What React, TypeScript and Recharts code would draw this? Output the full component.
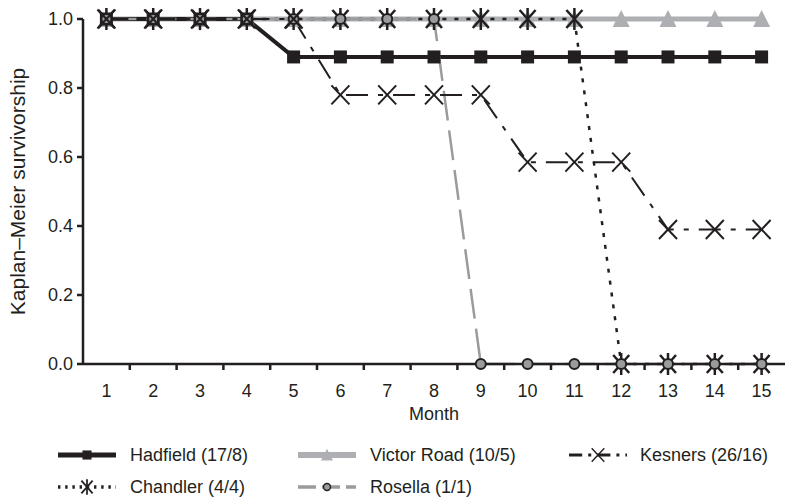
import { LineChart, Line, XAxis, YAxis } from 'recharts';

const INK = '#231f20';
const LIGHT = '#adafb2';
const MID = '#9a9b9d';
const FONT = '"Liberation Sans", Arial, sans-serif';

const months = [1, 2, 3, 4, 5, 6, 7, 8, 9, 10, 11, 12, 13, 14, 15];
const yTicks = [0, 0.2, 0.4, 0.6, 0.8, 1.0];

const hadfield = [1, 1, 1, 1, 0.89, 0.89, 0.89, 0.89, 0.89, 0.89, 0.89, 0.89, 0.89, 0.89, 0.89];
const victorRoad = [1, 1, 1, 1, 1, 1, 1, 1, 1, 1, 1, 1, 1, 1, 1];
const kesners = [1, 1, 1, 1, 1, 0.78, 0.78, 0.78, 0.78, 0.585, 0.585, 0.585, 0.39, 0.39, 0.39];
const chandler = [1, 1, 1, 1, 1, 1, 1, 1, 1, 1, 1, 0, 0, 0, 0];
const rosella = [1, 1, 1, 1, 1, 1, 1, 1, 0, 0, 0, 0, 0, 0, 0];

const rows = months.map((m, i) => ({
  month: m,
  hadfield: hadfield[i],
  victorRoad: victorRoad[i],
  kesners: kesners[i],
  chandler: chandler[i],
  rosella: rosella[i],
}));

// ticks at category centres (labels) and boundaries (tick marks)
const xTicks = months.flatMap(m => (m < months.length ? [m, m + 0.5] : [m]));

type MarkerProps = { cx: number; cy: number };

const SquareMark = ({ cx, cy }: MarkerProps) => (
  <rect x={cx - 6.5} y={cy - 6.5} width={13} height={13} fill={INK} />
);
const TriangleMark = ({ cx, cy }: MarkerProps) => (
  <polygon points={`${cx},${cy - 9} ${cx - 8.5},${cy + 8} ${cx + 8.5},${cy + 8}`} fill={LIGHT} />
);
const CrossMark = ({ cx, cy }: MarkerProps) => (
  <g stroke={INK} strokeWidth={2}>
    <line x1={cx - 9} y1={cy - 9.5} x2={cx + 9} y2={cy + 9.5} />
    <line x1={cx - 9} y1={cy + 9.5} x2={cx + 9} y2={cy - 9.5} />
  </g>
);
const StarMark = ({ cx, cy }: MarkerProps) => (
  <g stroke={INK} strokeWidth={2.5}>
    <line x1={cx - 8} y1={cy - 9} x2={cx + 8} y2={cy + 9} />
    <line x1={cx - 8} y1={cy + 9} x2={cx + 8} y2={cy - 9} />
    <line x1={cx} y1={cy - 11} x2={cx} y2={cy + 11} />
  </g>
);
const CircleMark = ({ cx, cy }: MarkerProps) => (
  <circle cx={cx} cy={cy} r={5} fill={MID} stroke={INK} strokeWidth={2} />
);

const series = [
  { key: 'victorRoad', name: 'Victor Road (10/5)', stroke: LIGHT, width: 5, dash: undefined, Mark: TriangleMark },
  { key: 'hadfield', name: 'Hadfield (17/8)', stroke: INK, width: 4, dash: undefined, Mark: SquareMark },
  { key: 'chandler', name: 'Chandler (4/4)', stroke: INK, width: 2.5, dash: '4 8', Mark: StarMark },
  { key: 'rosella', name: 'Rosella (1/1)', stroke: MID, width: 2.5, dash: '30 10', Mark: CircleMark },
  { key: 'kesners', name: 'Kesners (26/16)', stroke: INK, width: 2, dash: '22 10 5 10', Mark: CrossMark },
];

// legend order as in the figure
const legendOrder = ['hadfield', 'victorRoad', 'kesners', 'chandler', 'rosella'];

function XTick({ x, y, payload }: any) {
  const v = payload.value as number;
  if (Number.isInteger(v)) {
    return (
      <text x={x} y={y + 33} textAnchor="middle" fontSize={18} fill={INK} fontFamily={FONT}>
        {v}
      </text>
    );
  }
  return <line x1={x} y1={y} x2={x} y2={y + 6} stroke={INK} strokeWidth={2.5} />;
}

function LegendIcon({ s }: { s: (typeof series)[number] }) {
  const M = s.Mark;
  return (
    <svg width={60} height={24} style={{ display: 'block' }}>
      <line x1={1} y1={12} x2={59} y2={12} stroke={s.stroke} strokeWidth={s.width + 1}
        strokeDasharray={s.dash ? s.dash.split(' ').map(n => Number(n) * 0.6).join(' ') : undefined} />
      <g transform="translate(30 12) scale(0.7) translate(-30 -12)">
        <M cx={30} cy={12} />
      </g>
    </svg>
  );
}

export default function App() {
  return (
    <div style={{ position: 'absolute', left: 0, top: 0, width: 785, height: 497, background: '#fff' }}>
      <LineChart width={785} height={497} data={rows} margin={{ top: 19, right: 0, left: 0, bottom: 63 }}>
        <XAxis
          dataKey="month"
          type="number"
          domain={[0.5, 15.5]}
          ticks={xTicks}
          interval={0}
          tickLine={false}
          tickSize={0}
          tickMargin={0}
          tick={<XTick />}
          height={70}
          stroke={INK}
          strokeWidth={2.5}
          label={(p: any) => {
            const vb = p.viewBox;
            return (
              <text x={vb.x + vb.width / 2} y={vb.y + 56} textAnchor="middle" fontSize={18} fill={INK} fontFamily={FONT}>
                Month
              </text>
            );
          }}
        />
        <YAxis
          domain={[0, 1]}
          ticks={yTicks}
          tickFormatter={(v: number) => v.toFixed(1)}
          width={83}
          tickSize={6}
          tickMargin={4}
          stroke={INK}
          strokeWidth={2.5}
          tick={{ fontSize: 18, fill: INK, fontFamily: FONT }}
          label={(p: any) => {
            const vb = p.viewBox;
            const cy = vb.y + vb.height / 2;
            return (
              <text x={25} y={cy} transform={`rotate(-90 25 ${cy})`} textAnchor="middle" fontSize={21} fill={INK} fontFamily={FONT}>
                Kaplan–Meier survivorship
              </text>
            );
          }}
        />
        {series.map(s => (
          <Line
            key={s.key}
            dataKey={s.key}
            name={s.name}
            type="linear"
            stroke={s.stroke}
            strokeWidth={s.width}
            strokeDasharray={s.dash}
            isAnimationActive={false}
            dot={(p: any) => <s.Mark key={`${s.key}-${p.index}`} cx={p.cx} cy={p.cy} />}
            activeDot={false}
          />
        ))}
      </LineChart>

      <div
        style={{
          position: 'absolute', left: 57, top: 443,
          display: 'grid', gridTemplateColumns: '240px 271px 200px', rowGap: 8,
          fontFamily: FONT, fontSize: 18, color: INK,
        }}
      >
        {legendOrder.map(k => {
          const s = series.find(x => x.key === k)!;
          return (
            <div key={k} style={{ display: 'flex', alignItems: 'center', height: 24 }}>
              <LegendIcon s={s} />
              <span style={{ marginLeft: 13, whiteSpace: 'nowrap' }}>{s.name}</span>
            </div>
          );
        })}
      </div>
    </div>
  );
}
